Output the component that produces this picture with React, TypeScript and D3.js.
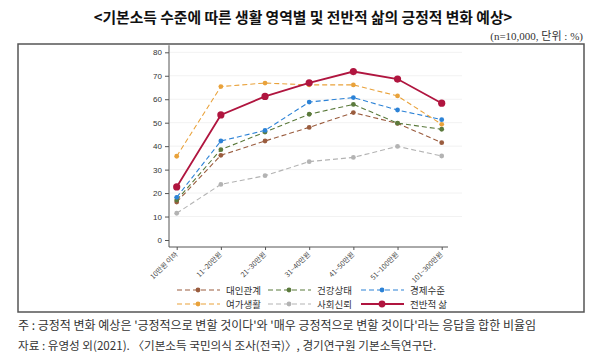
import React, { useEffect, useRef } from 'react';
import * as d3 from 'd3';

// x categories (income levels)
const categories = ['10만원 이하', '11~20만원', '21~30만원', '31~40만원', '41~50만원', '51~100만원', '101~300만원'];
const yTicks = [0, 10, 20, 30, 40, 50, 60, 70, 80];

// series values (%)
const interpersonal = [16.2, 36.1, 42.2, 48.0, 54.3, 49.7, 41.5];
const health = [17.0, 38.5, 46.0, 53.6, 57.8, 49.8, 47.2];
const economy = [18.2, 42.2, 46.7, 58.8, 60.7, 55.4, 51.3];
const leisure = [35.7, 65.4, 66.9, 66.1, 66.1, 61.4, 49.3];
const trust = [11.4, 23.7, 27.4, 33.4, 35.2, 39.9, 35.8];
const overall = [22.6, 53.3, 61.2, 67.0, 71.8, 68.6, 58.3];

const seriesNames = ['대인관계', '건강상태', '경제수준', '여가생활', '사회신뢰', '전반적 삶'];
const seriesColors = ['#9a5c3e', '#5b7a3c', '#2c82d6', '#e9a23b', '#b3b3b3', '#b0153f'];

const App = () => {
  const svgRef = useRef<SVGSVGElement | null>(null);

  useEffect(() => {
    const svg = d3.select(svgRef.current);
    svg.selectAll('*').remove();

    const sans = 'Liberation Sans, Arial, sans-serif';
    const kor = 'Noto Sans CJK KR, sans-serif';

    // title
    svg.append('text')
      .attr('x', 303).attr('y', 23)
      .attr('text-anchor', 'middle')
      .attr('font-family', kor).attr('font-weight', 'bold').attr('font-size', 14.8)
      .attr('fill', '#111')
      .text('<기본소득 수준에 따른 생활 영역별 및 전반적 삶의 긍정적 변화 예상>');

    svg.append('text')
      .attr('x', 583).attr('y', 40)
      .attr('text-anchor', 'end')
      .attr('font-family', 'Liberation Serif, Noto Sans CJK KR, serif').attr('font-size', 11)
      .attr('fill', '#333')
      .text('(n=10,000, 단위 : %)');

    // frame
    svg.append('rect')
      .attr('x', 18).attr('y', 44).attr('width', 566).attr('height', 268)
      .attr('fill', 'none').attr('stroke', '#555').attr('stroke-width', 1.5);

    const x = d3.scalePoint<string>().domain(categories).range([176.7, 441.7]);
    const y = d3.scaleLinear().domain([0, 80]).range([240, 52.3]);

    const g = svg.append('g');

    // faint grid
    g.selectAll('line.grid')
      .data(yTicks.slice(1))
      .enter()
      .append('line')
      .attr('x1', 170).attr('x2', 462)
      .attr('y1', (d) => y(d)).attr('y2', (d) => y(d))
      .attr('stroke', '#f2f2f2').attr('stroke-width', 1);

    // y axis
    const yAxis = g.append('g')
      .attr('transform', 'translate(169,0)')
      .call(d3.axisLeft(y).tickValues(yTicks).tickSize(4).tickSizeOuter(0));
    yAxis.select('.domain').attr('stroke', '#555').attr('d', `M0,${y(0) + 7}V${y(83)}`);
    yAxis.selectAll('line').attr('stroke', '#555');
    yAxis.selectAll('text').attr('font-family', sans).attr('font-size', 8).attr('fill', '#333');

    // x axis
    const xAxis = g.append('g')
      .attr('transform', 'translate(0,247)')
      .call(d3.axisBottom(x).tickSize(3).tickSizeOuter(0));
    xAxis.select('.domain').attr('stroke', '#555').attr('d', `M169,0H448`);
    xAxis.selectAll('line').attr('stroke', '#555');
    xAxis.selectAll('text')
      .attr('font-family', kor).attr('font-size', 7).attr('fill', '#444')
      .attr('text-anchor', 'end')
      .attr('dy', 0).attr('y', 0)
      .attr('transform', 'translate(1,8) rotate(-45)');

    const allSeries = [interpersonal, health, economy, leisure, trust, overall];
    const line = d3.line<number>()
      .x((_, i) => x(categories[i]) as number)
      .y((d) => y(d));

    allSeries.forEach((vals, k) => {
      const solid = k === 5;
      g.append('path')
        .datum(vals)
        .attr('fill', 'none')
        .attr('stroke', seriesColors[k])
        .attr('stroke-width', solid ? 1.8 : 1.1)
        .attr('stroke-dasharray', solid ? null : '5,3')
        .attr('d', line);
      g.selectAll(`circle.s${k}`)
        .data(vals)
        .enter()
        .append('circle')
        .attr('cx', (_, i) => x(categories[i]) as number)
        .attr('cy', (d) => y(d))
        .attr('r', solid ? 3.6 : 2.4)
        .attr('fill', seriesColors[k]);
    });

    // legend
    const legX = [177, 268, 361];
    const legY = [290, 304];
    seriesNames.forEach((name, k) => {
      const lx = legX[k % 3];
      const ly = legY[Math.floor(k / 3)];
      const solid = k === 5;
      const lg = svg.append('g');
      lg.append('line')
        .attr('x1', lx).attr('x2', lx + 43).attr('y1', ly).attr('y2', ly)
        .attr('stroke', seriesColors[k])
        .attr('stroke-width', solid ? 1.8 : 1.1)
        .attr('stroke-dasharray', solid ? null : '5,3');
      lg.append('circle')
        .attr('cx', lx + 21).attr('cy', ly).attr('r', solid ? 3.4 : 2.4)
        .attr('fill', seriesColors[k]);
      lg.append('text')
        .attr('x', lx + 49).attr('y', ly + 3.5)
        .attr('font-family', kor).attr('font-size', 9.5).attr('fill', '#333')
        .text(name);
    });

    // notes
    svg.append('text')
      .attr('x', 18).attr('y', 330)
      .attr('font-family', kor).attr('font-size', 12).attr('fill', '#333')
      .text("주 : 긍정적 변화 예상은 '긍정적으로 변할 것이다'와 '매우 긍정적으로 변할 것이다'라는 응답을 합한 비율임");
    svg.append('text')
      .attr('x', 18).attr('y', 350)
      .attr('font-family', kor).attr('font-size', 11.6).attr('fill', '#333')
      .text('자료 : 유영성 외(2021). 〈기본소득 국민의식 조사(전국)〉, 경기연구원 기본소득연구단.');
  }, []);

  return (
    <svg
      ref={svgRef}
      width={600}
      height={363}
      style={{ position: 'absolute', left: 0, top: 0, background: '#fff' }}
    />
  );
};

export default App;
